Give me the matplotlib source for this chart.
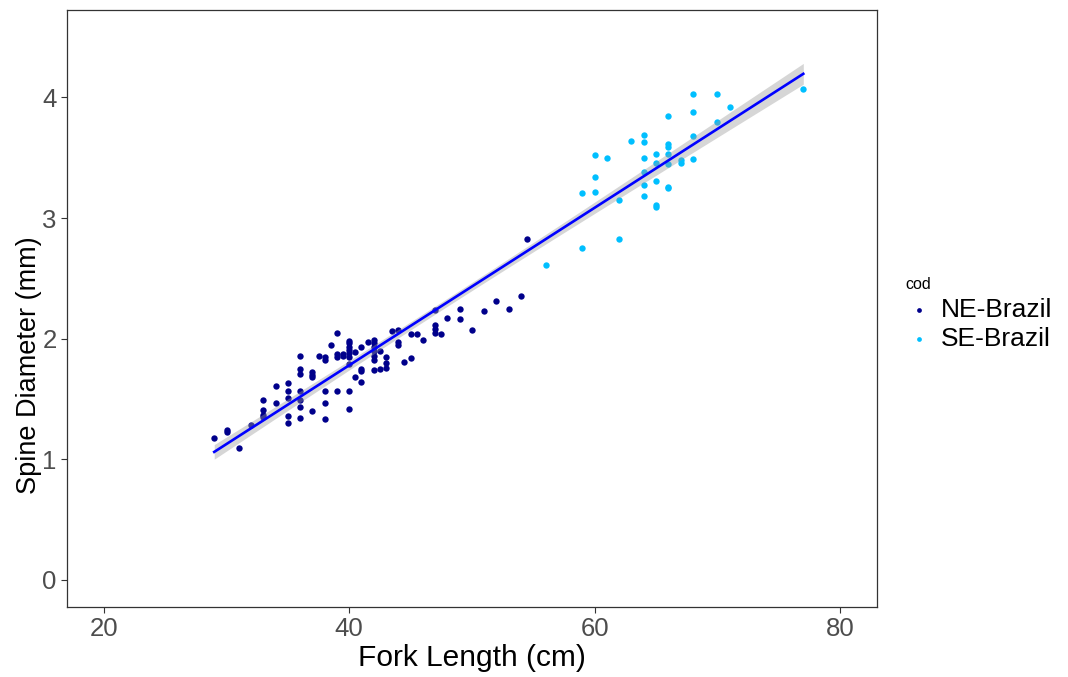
import matplotlib
matplotlib.use("Agg")
import matplotlib.pyplot as plt
import numpy as np

plt.rcParams["font.family"] = ["Liberation Sans", "DejaVu Sans"]

# fork length (cm) and spine diameter (mm)
ne_length = [29, 30, 30, 31, 32,
             33, 33, 33, 33, 34, 34,
             35, 35, 35, 35, 35,
             36, 36, 36, 36, 36, 36, 36,
             37, 37, 37, 37, 37.5,
             38, 38, 38, 38, 38, 38.5,
             39, 39, 39, 39, 39.5, 39.5,
             40, 40, 40, 40, 40, 40, 40, 40, 40,
             40.5, 40.5, 41, 41, 41, 41, 41.5,
             42, 42, 42, 42, 42, 42, 42, 42.5, 42.5,
             43, 43, 43, 43.5, 44, 44, 44, 44.5, 45, 45, 45.5, 46,
             47, 47, 47, 47, 47.5, 48, 49, 49, 50, 51, 52, 53, 54, 54.5]
ne_diam = [1.18, 1.23, 1.24, 1.09, 1.28,
           1.49, 1.41, 1.37, 1.35, 1.61, 1.47,
           1.63, 1.57, 1.51, 1.36, 1.30,
           1.86, 1.75, 1.71, 1.57, 1.49, 1.43, 1.34,
           1.72, 1.70, 1.68, 1.40, 1.86,
           1.85, 1.82, 1.57, 1.47, 1.33, 1.95,
           2.05, 1.87, 1.85, 1.57, 1.87, 1.86,
           1.98, 1.96, 1.93, 1.91, 1.88, 1.85, 1.79, 1.57, 1.42,
           1.89, 1.68, 1.93, 1.75, 1.73, 1.64, 1.97,
           1.99, 1.96, 1.93, 1.90, 1.86, 1.82, 1.74, 1.90, 1.75,
           1.85, 1.80, 1.76, 2.06, 2.07, 1.97, 1.95, 1.81, 2.04, 1.84, 2.04, 1.99,
           2.24, 2.11, 2.08, 2.05, 2.04, 2.17, 2.25, 2.16, 2.07, 2.23, 2.31, 2.25, 2.35, 2.83]

se_length = [56, 59, 59, 60, 60, 60, 61, 62, 62, 63,
             64, 64, 64, 64, 64, 64,
             65, 65, 65, 65, 65,
             66, 66, 66, 66, 66, 66, 66,
             67, 67, 68, 68, 68, 68, 70, 70, 71, 77]
se_diam = [2.61, 2.75, 3.21, 3.22, 3.34, 3.52, 3.50, 2.83, 3.15, 3.64,
           3.69, 3.63, 3.50, 3.38, 3.27, 3.18,
           3.53, 3.46, 3.31, 3.11, 3.09,
           3.85, 3.61, 3.59, 3.53, 3.45, 3.26, 3.25,
           3.48, 3.46, 4.03, 3.88, 3.68, 3.49, 4.03, 3.80, 3.92, 4.07]

groups = ["NE-Brazil", "SE-Brazil"]
colors = ["#00008B", "#00BFFF"]

x_ticks = [20, 40, 60, 80]
y_ticks = [0, 1, 2, 3, 4]

fig = plt.figure(figsize=(10.68, 6.77), dpi=100)
ax = fig.add_axes([0.0627, 0.1034, 0.7584, 0.8818])

ax.scatter(ne_length, ne_diam, s=21, color=colors[0], linewidths=0, label=groups[0], zorder=2)
ax.scatter(se_length, se_diam, s=21, color=colors[1], linewidths=0, label=groups[1], zorder=2)

# linear fit with 95% confidence band (like geom_smooth(method="lm"))
x = np.array(ne_length + se_length, dtype=float)
y = np.array(ne_diam + se_diam)
n = len(x)
slope, intercept = np.polyfit(x, y, 1)
resid = y - (slope * x + intercept)
s_err = np.sqrt(np.sum(resid ** 2) / (n - 2))
xs = np.linspace(x.min(), x.max(), 200)
fit = slope * xs + intercept
se_fit = s_err * np.sqrt(1.0 / n + (xs - x.mean()) ** 2 / np.sum((x - x.mean()) ** 2))
t_val = 1.98
ax.fill_between(xs, fit - t_val * se_fit, fit + t_val * se_fit, color="#999999", alpha=0.4,
                linewidth=0, zorder=3)
ax.plot(xs, fit, color="#0000FF", linewidth=1.9, zorder=4)

ax.set_xlim(17, 83)
ax.set_ylim(-0.225, 4.725)
ax.set_xticks(x_ticks)
ax.set_yticks(y_ticks)
ax.tick_params(axis="both", length=4, width=0.8, color="#333333", labelcolor="#4D4D4D",
               labelsize=18.5)
for sp in ax.spines.values():
    sp.set_color("#333333")
    sp.set_linewidth(0.9)

ax.set_xlabel("Fork Length (cm)", fontsize=21.5, labelpad=2)
ax.set_ylabel("Spine Diameter (mm)", fontsize=19.5)
ax.yaxis.set_label_coords(-0.031, 0.405)

leg = fig.legend(loc="center left", bbox_to_anchor=(0.838, 0.536), frameon=False,
                 title="cod", fontsize=19, title_fontsize=11.5, handletextpad=0.35,
                 markerscale=0.75, labelspacing=0.2, borderaxespad=0, handlelength=1.0)
leg._legend_box.align = "left"

fig.savefig("out.png", dpi=100)
